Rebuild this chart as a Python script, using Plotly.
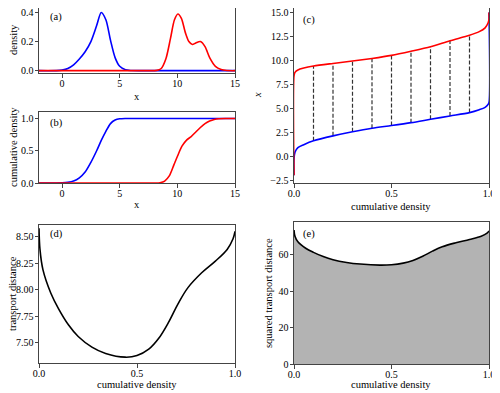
import plotly.graph_objects as go

# (a) densities
blue_x = [-2, -0.5, 0, 0.5, 1.0, 1.5, 2.0, 2.5, 3.0, 3.4, 3.8, 4.2, 4.6, 5.0, 5.5, 6.0, 7, 15]
blue_y = [0, 0.0005, 0.004, 0.015, 0.04, 0.08, 0.13, 0.2, 0.31, 0.40, 0.35, 0.21, 0.09, 0.03, 0.006, 0.001, 0, 0]
red_x = [-2, 7.5, 8.2, 8.6, 9.0, 9.4, 9.75, 10.05, 10.35, 10.7, 11.0, 11.3, 11.6, 12.0, 12.4, 12.8, 13.3, 13.8, 14.3, 15]
red_y = [0, 0, 0.002, 0.015, 0.08, 0.22, 0.35, 0.39, 0.36, 0.26, 0.2, 0.18, 0.19, 0.2, 0.165, 0.09, 0.03, 0.008, 0.001, 0]

# (b) cumulative densities
blue_cx = [-2, -0.5, 0, 0.5, 1.0, 1.5, 2.0, 2.5, 3.0, 3.4, 3.8, 4.2, 4.6, 5.0, 5.5, 6.0, 15]
blue_cy = [0, 0, 0.002, 0.01, 0.03, 0.08, 0.17, 0.32, 0.5, 0.66, 0.8, 0.92, 0.975, 0.995, 1.0, 1.0, 1.0]
red_cx = [-2, 8.0, 8.5, 8.9, 9.3, 9.7, 10.0, 10.4, 10.8, 11.2, 11.6, 12.0, 12.4, 12.8, 13.2, 13.6, 14.2, 15]
red_cy = [0, 0, 0.005, 0.03, 0.11, 0.28, 0.41, 0.57, 0.665, 0.72, 0.79, 0.86, 0.92, 0.96, 0.985, 0.996, 1.0, 1.0]

# (c) quantile functions
q_p = [0, 0, 0.005, 0.02, 0.05, 0.1, 0.2, 0.3, 0.4, 0.5, 0.6, 0.7, 0.8, 0.9, 0.95, 0.98, 0.995, 1.0, 1.0]
blue_q = [-2, -0.3, 0.4, 0.9, 1.2, 1.6, 2.12, 2.55, 2.92, 3.2, 3.5, 3.85, 4.2, 4.55, 4.85, 5.1, 5.4, 5.6, 15]
red_q = [-2, 8.37, 8.75, 9.0, 9.2, 9.41, 9.68, 9.93, 10.2, 10.52, 10.95, 11.42, 12.05, 12.62, 13.0, 13.4, 13.9, 14.3, 15]
dash_idx = [5, 6, 7, 8, 9, 10, 11, 12, 13]  # p = 0.1 ... 0.9

# (d) transport distance and (e) squared transport distance
t_p = [0, 0.005, 0.02, 0.06, 0.1, 0.15, 0.2, 0.27, 0.34, 0.44, 0.5, 0.56, 0.61, 0.66, 0.71, 0.76, 0.83, 0.9, 0.96, 0.99, 1.0]
dist = [8.58, 8.38, 8.19, 7.97, 7.82, 7.67, 7.56, 7.46, 7.40, 7.365, 7.38, 7.44, 7.54, 7.69, 7.87, 8.02, 8.16, 8.27, 8.38, 8.48, 8.55]
sq_dist = [73.6, 70.2, 67.1, 63.6, 61.3, 59.0, 57.3, 55.8, 54.9, 54.3, 54.5, 55.4, 56.9, 59.2, 62.0, 64.4, 66.6, 68.4, 70.2, 71.9, 73.1]

fig = go.Figure()

def line(x, y, color, xa, ya, smooth=0.8, **kw):
    fig.add_trace(go.Scatter(x=x, y=y, mode='lines',
                             line=dict(color=color, width=1.6, shape='spline', smoothing=smooth),
                             xaxis=xa, yaxis=ya, showlegend=False, **kw))

line(blue_x, blue_y, '#0000ff', 'x', 'y')
line(red_x, red_y, '#ff0000', 'x', 'y')
line(blue_cx, blue_cy, '#0000ff', 'x2', 'y2')
line(red_cx, red_cy, '#ff0000', 'x2', 'y2')

# dashed connectors between the quantile curves
dx, dy = [], []
for i in dash_idx:
    dx += [q_p[i], q_p[i], None]
    dy += [blue_q[i], red_q[i], None]
fig.add_trace(go.Scatter(x=dx, y=dy, mode='lines', line=dict(color='#333333', width=1.2, dash='4px,2px'),
                         xaxis='x3', yaxis='y3', showlegend=False))
line(q_p, blue_q, '#0000ff', 'x3', 'y3')
line(q_p, red_q, '#ff0000', 'x3', 'y3')

line(t_p, dist, '#000000', 'x4', 'y4', smooth=1.0)
line(t_p, sq_dist, '#000000', 'x5', 'y5', smooth=1.0, fill='tozeroy', fillcolor='#b3b3b3')

# the page body has an 8px margin, so the figure is 8px smaller and everything is placed
# in screen pixels minus that offset
W, H, OFF = 492, 385, 8
def fx(px):
    return (px - OFF) / W
def fy(py):
    return 1 - (py - OFF) / H

FAM = 'Liberation Serif, Times New Roman, DejaVu Serif, serif'
font = dict(family=FAM, size=10.5, color='black')
tfont = dict(font, size=10)
ax = dict(showline=True, mirror=True, linecolor='#444', linewidth=1, ticks='outside', ticklen=3.5,
          tickcolor='#444', showgrid=False, zeroline=False, tickfont=tfont, automargin=False,
          ticklabeloverflow='allow')
xa = dict(ax, ticklabelstandoff=-3)
ya = dict(ax, ticklabelstandoff=-1)

left = [fx(39), fx(235)]
right = [fx(294), fx(489)]

fig.update_layout(
    width=W, height=H,
    margin=dict(l=0, r=0, t=0, b=0, autoexpand=False),
    paper_bgcolor='white', plot_bgcolor='white',
    font=font,
    xaxis=dict(xa, domain=left, range=[-2, 15], anchor='y', tickvals=[0, 5, 10, 15]),
    yaxis=dict(ya, domain=[fy(73), fy(8)], range=[-0.016, 0.431], anchor='x', tickvals=[0, 0.2, 0.4],
               tickformat='.1f'),
    xaxis2=dict(xa, domain=left, range=[-2, 15], anchor='y2', tickvals=[0, 5, 10, 15]),
    yaxis2=dict(ya, domain=[fy(183), fy(112)], range=[0, 1.1], anchor='x2', tickvals=[0, 0.5, 1.0],
                tickformat='.1f'),
    xaxis3=dict(xa, domain=right, range=[0, 1], anchor='y3', tickvals=[0, 0.5, 1.0], tickformat='.1f'),
    yaxis3=dict(ya, domain=[fy(183), fy(8)], range=[-2.8, 15.47], anchor='x3',
                tickvals=[-2.5, 0, 2.5, 5, 7.5, 10, 12.5, 15],
                ticktext=['\u22122.5', '0.0', '2.5', '5.0', '7.5', '10.0', '12.5', '15.0']),
    xaxis4=dict(xa, domain=left, range=[0, 1], anchor='y4', tickvals=[0, 0.5, 1.0], tickformat='.1f'),
    yaxis4=dict(ya, domain=[fy(363), fy(225)], range=[7.31, 8.61], anchor='x4',
                tickvals=[7.5, 7.75, 8.0, 8.25, 8.5], tickformat='.2f'),
    xaxis5=dict(xa, domain=right, range=[0, 1], anchor='y5', tickvals=[0, 0.5, 1.0], tickformat='.1f'),
    yaxis5=dict(ya, domain=[fy(364), fy(222)], range=[0, 78], anchor='x5', tickvals=[0, 20, 40, 60]),
)

# panel letters and axis titles, in screen pixels
texts = [
    ('(a)', 56, 17, 0), ('(b)', 56, 123, 0), ('(c)', 309, 20, 0), ('(d)', 56, 234, 0), ('(e)', 309, 234, 0),
    ('x', 137, 97, 0), ('density', 13, 40, -90),
    ('x', 137, 205, 0), ('cumulative density', 13, 147, -90),
    ('<i>x</i>', 258, 95, -90), ('cumulative density', 391, 207, 0),
    ('transport distance', 12, 294, -90), ('cumulative density', 137, 384, 0),
    ('squared transport distance', 268, 293, -90), ('cumulative density', 391, 384, 0),
]
for txt, px, py, ang in texts:
    fig.add_annotation(text=txt, x=fx(px), y=fy(py), xref='paper', yref='paper', textangle=ang,
                       showarrow=False, font=font, xanchor='center', yanchor='middle')

fig.write_html("out.html")
